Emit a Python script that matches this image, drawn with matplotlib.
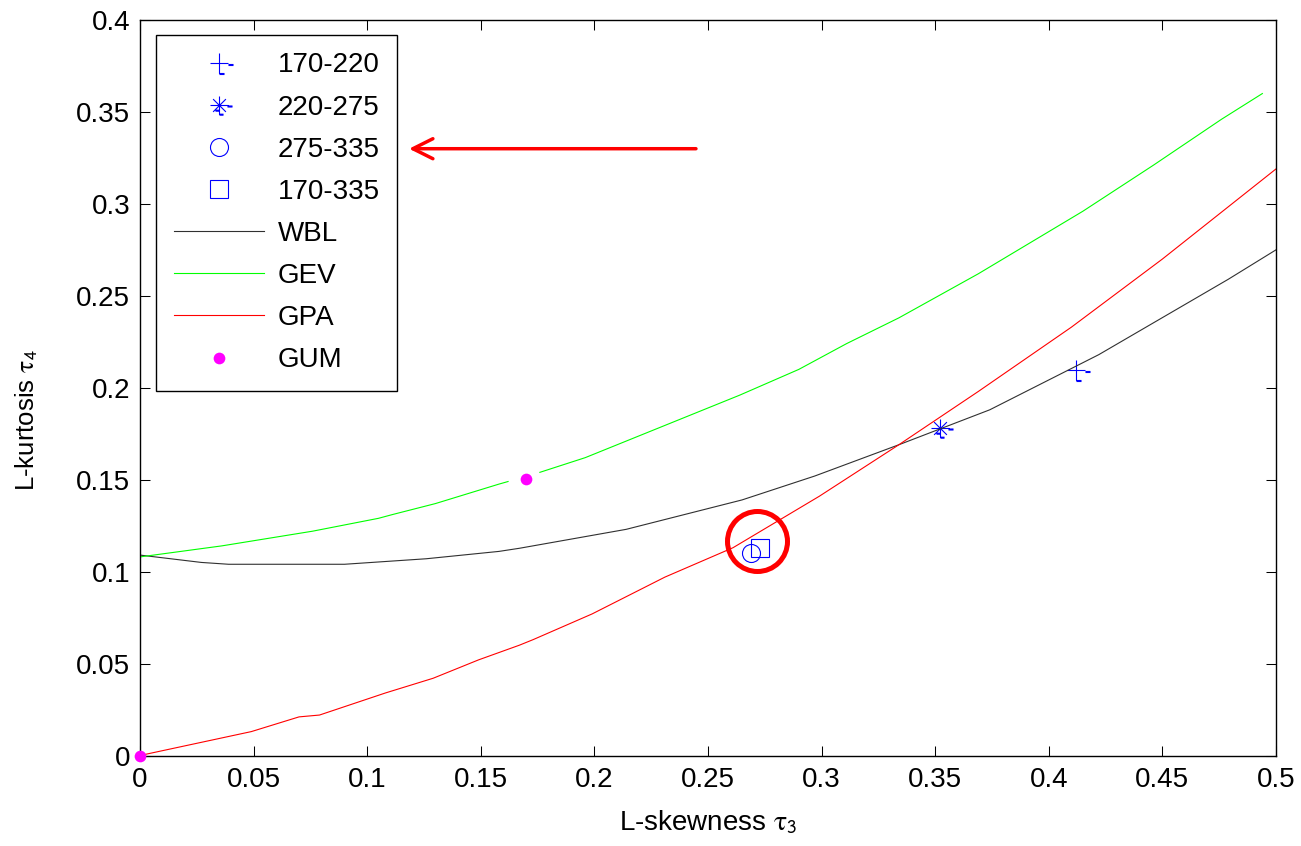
import numpy as np
import matplotlib
matplotlib.use("Agg")
import matplotlib.pyplot as plt
from matplotlib.path import Path

plt.rcParams['font.family'] = ['Liberation Sans', 'DejaVu Sans']
plt.rcParams['mathtext.fontset'] = 'stix'

# Sample L-moment ratios (tau3, tau4)
samples = ['170-220', '220-275', '275-335', '170-335']
sample_t3 = [0.412, 0.352, 0.269, 0.273]
sample_t4 = [0.2096, 0.1782, 0.1102, 0.1130]

# Theoretical curves
wbl_t3 = [0.0, 0.027, 0.039, 0.090, 0.126, 0.158, 0.167, 0.214, 0.265, 0.297,
          0.334, 0.374, 0.422, 0.479, 0.500]
wbl_t4 = [0.109, 0.105, 0.104, 0.104, 0.107, 0.111, 0.1127, 0.123, 0.139, 0.152,
          0.169, 0.188, 0.218, 0.259, 0.275]

gev_t3 = [0.0, 0.036, 0.076, 0.105, 0.111, 0.130, 0.158, 0.162, np.nan, 0.176,
          0.196, 0.228, 0.264, 0.290, 0.311, 0.334, 0.369, 0.415, 0.446, 0.476, 0.494]
gev_t4 = [0.108, 0.114, 0.122, 0.129, 0.131, 0.137, 0.1476, 0.149, np.nan, 0.154,
          0.162, 0.178, 0.196, 0.210, 0.224, 0.238, 0.262, 0.296, 0.321, 0.346, 0.360]

gpa_t3 = [0.0, 0.049, 0.070, 0.079, 0.108, 0.129, 0.149, 0.167, 0.173, 0.199,
          0.231, 0.261, 0.299, 0.319, 0.334, 0.369, 0.410, 0.450, 0.500]
gpa_t4 = [0.0, 0.013, 0.021, 0.022, 0.034, 0.042, 0.052, 0.060, 0.063, 0.077,
          0.097, 0.113, 0.141, 0.157, 0.169, 0.198, 0.233, 0.270, 0.319]

gum_t3 = [0.0, 0.1699]
gum_t4 = [0.0, 0.1504]

x_ticks = [0, 0.05, 0.1, 0.15, 0.2, 0.25, 0.3, 0.35, 0.4, 0.45, 0.5]
x_ticklabels = ['0', '0.05', '0.1', '0.15', '0.2', '0.25', '0.3', '0.35', '0.4', '0.45', '0.5']
y_ticks = [0, 0.05, 0.1, 0.15, 0.2, 0.25, 0.3, 0.35, 0.4]
y_ticklabels = ['0', '0.05', '0.1', '0.15', '0.2', '0.25', '0.3', '0.35', '0.4']

# Highlights
arrow_tail = (0.2447, 0.330)
arrow_head = (0.1184, 0.330)
ring_center = (0.2716, 0.1167)


def seg_path(segs):
    verts, codes = [], []
    for (a, b) in segs:
        verts += [a, b]
        codes += [Path.MOVETO, Path.LINETO]
    return Path(verts, codes)


# plus marker with small dashes (pixel units, y up)
plus_marker = seg_path([
    ((-9, 0), (9, 0)), ((0, -10), (0, 10)),
    ((9, -0.6), (14, -0.6)), ((9, -1.6), (14, -1.6)),
    ((0, -10.2), (5, -10.2)), ((0, -11.2), (5, -11.2)),
])
d = 6.4
star_marker = seg_path([
    ((-9, 0), (9, 0)), ((0, -9), (0, 9)),
    ((-d, -d), (d, d)), ((-d, d), (d, -d)),
    ((8, -0.5), (13, -0.5)), ((8, -1.5), (13, -1.5)),
    ((-4, -4.7), (0, -4.7)), ((-4, -5.7), (0, -5.7)),
    ((0, -8.7), (4, -8.7)), ((0, -9.7), (4, -9.7)),
])

px2pt = 72 / 100.0

fig = plt.figure(figsize=(13.01, 8.46), dpi=100)
ax = fig.add_axes([140 / 1301, (846 - 755.5) / 846, 1136 / 1301, 735.5 / 846])

blue = '#0000ff'
ax.plot(sample_t3[0], sample_t4[0], linestyle='none', marker=plus_marker,
        markersize=28 * px2pt, markeredgewidth=0.8, color=blue, label=samples[0])
ax.plot(sample_t3[1], sample_t4[1], linestyle='none', marker=star_marker,
        markersize=26 * px2pt, markeredgewidth=0.8, color=blue, label=samples[1])
ax.plot(sample_t3[2], sample_t4[2], linestyle='none', marker='o', markerfacecolor='none',
        markersize=18 * px2pt, markeredgewidth=0.8, color=blue, label=samples[2])
ax.plot(sample_t3[3], sample_t4[3], linestyle='none', marker='s', markerfacecolor='none',
        markersize=18 * px2pt, markeredgewidth=0.8, color=blue, label=samples[3])

ax.plot(wbl_t3, wbl_t4, color='#303030', lw=0.8, label='WBL')
ax.plot(gev_t3, gev_t4, color='#00ff00', lw=0.8, label='GEV')
ax.plot(gpa_t3, gpa_t4, color='#ff0000', lw=0.8, label='GPA')
ax.plot(gum_t3, gum_t4, linestyle='none', marker='o', markersize=11.7 * px2pt,
        color='#ff00ff', markeredgewidth=0, label='GUM', clip_on=False, zorder=5)

# red pointer arrow and ring
ax.annotate('', xy=arrow_head, xytext=arrow_tail,
            arrowprops=dict(arrowstyle='->,head_length=0.72,head_width=0.36',
                            color='#ff0000', lw=2.5, mutation_scale=20,
                            shrinkA=0, shrinkB=0))
ax.plot(ring_center[0], ring_center[1], linestyle='none', marker='o',
        markerfacecolor='none', markeredgecolor='#ff0000',
        markersize=60 * px2pt, markeredgewidth=5 * px2pt, zorder=6)

ax.set_xlim(0, 0.5)
ax.set_ylim(0, 0.4)
ax.set_xticks(x_ticks)
ax.set_xticklabels(x_ticklabels)
ax.set_yticks(y_ticks)
ax.set_yticklabels(y_ticklabels)
ax.tick_params(direction='in', length=7.2, width=0.75, top=True, right=True,
               labelsize=20, colors='black')
ax.tick_params(axis='x', pad=8)
ax.tick_params(axis='y', pad=7)
for s in ax.spines.values():
    s.set_linewidth(1.0)
    s.set_color('black')

ax.set_xlabel(r'L-skewness $\mathrm{\tau}_{\mathsf{3}}$', fontsize=20, labelpad=12)
ax.set_ylabel(r'L-kurtosis $\mathrm{\tau}_{\mathsf{4}}$', fontsize=18.5)
ax.yaxis.set_label_coords(-0.088, 0.456)

leg = ax.legend(loc='upper left', bbox_to_anchor=(16 / 1136, 1 - 15 / 735.5),
                borderaxespad=0, fontsize=20, frameon=True, fancybox=False,
                edgecolor='black', framealpha=1, numpoints=1,
                handlelength=3.27, handletextpad=0.47, labelspacing=0.58,
                borderpad=0.63)
leg.get_frame().set_linewidth(1.0)

fig.savefig('out.png', dpi=100)
